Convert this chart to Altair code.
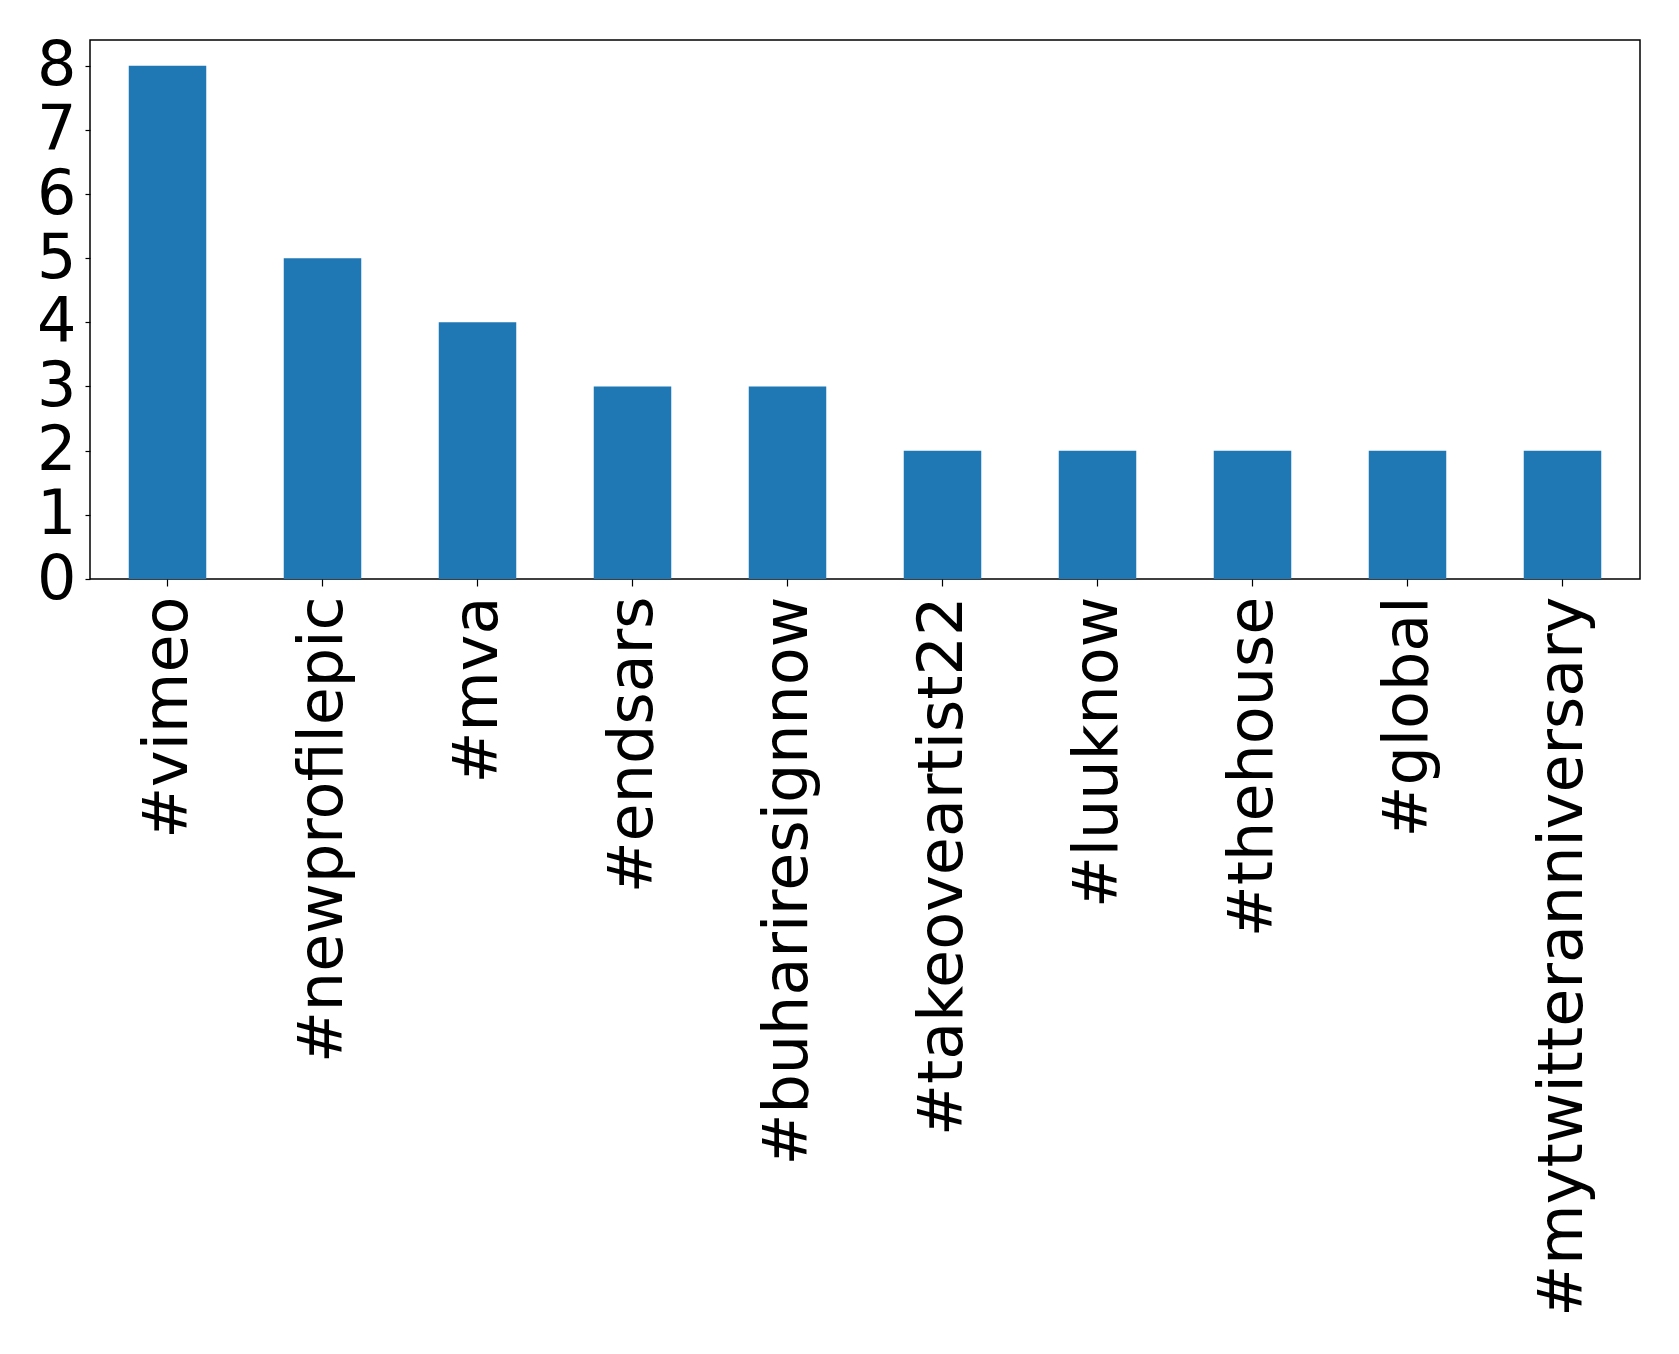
import altair as alt
import pandas as pd

tags = ["#vimeo", "#newprofilepic", "#mva", "#endsars", "#buhariresignnow",
        "#takeoveartist22", "#luuknow", "#thehouse", "#global", "#mytwitteranniversary"]
counts = [8, 5, 4, 3, 3, 2, 2, 2, 2, 2]

df = pd.DataFrame({"tag": tags, "count": counts})

chart = alt.Chart(df).mark_bar(color="#1f77b4").encode(
    x=alt.X("tag:N", sort=tags, title=None,
            scale=alt.Scale(paddingInner=0.5, paddingOuter=0.25),
            axis=alt.Axis(labelAngle=-90, labelFontSize=62, labelFont="DejaVu Sans",
                          labelColor="black", tickColor="black", tickSize=7,
                          tickWidth=1.2, labelPadding=10, domain=False, grid=False,
                          labelLimit=1000, labelOverlap=False)),
    y=alt.Y("count:Q", title=None,
            scale=alt.Scale(domain=[0, 8.4], nice=False),
            axis=alt.Axis(values=[0, 1, 2, 3, 4, 5, 6, 7, 8], labelFontSize=62,
                          labelFont="DejaVu Sans", labelColor="black",
                          tickColor="black", tickSize=5, tickWidth=1.2,
                          labelPadding=9, domain=False, grid=False, format="d",
                          labelOverlap=False)),
).properties(
    width=1550, height=539,
    autosize=alt.AutoSizeParams(type="none"),
    padding={"left": 82, "top": 32, "right": 30, "bottom": 760},
    background="white",
).configure_view(
    stroke="black", strokeWidth=1.5
)

chart.save("out.html", embed_options={"renderer": "svg", "actions": False})
